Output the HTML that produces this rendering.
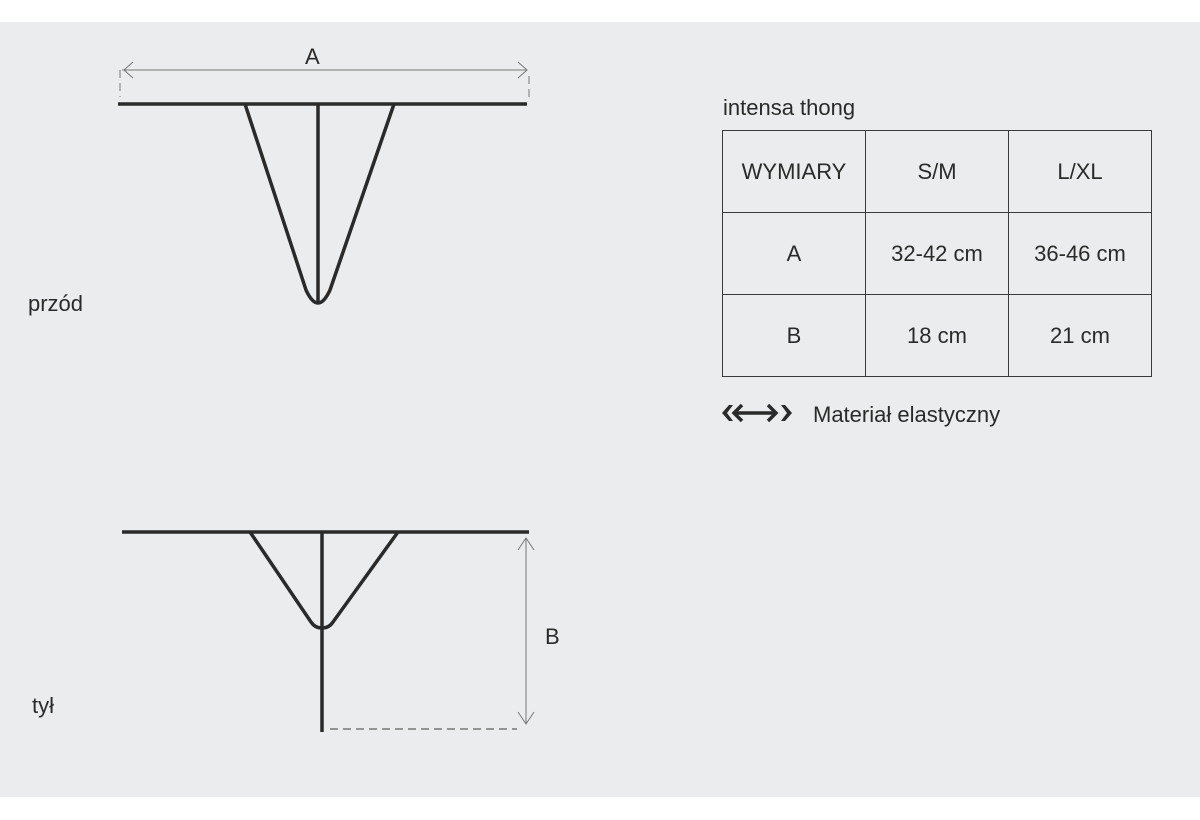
<!DOCTYPE html>
<html><head><style>
body{margin:0;width:1200px;height:820px;background:#fff;position:relative;font-family:"Liberation Sans",sans-serif;color:#2a2a2a;overflow:hidden}
.bg{position:absolute;left:0;top:22px;width:1200px;height:775px;background:#ebeced}
.t{position:absolute;font-size:22px;white-space:nowrap}
table{position:absolute;left:722px;top:130px;border-collapse:collapse}
td{border:1px solid #3a3a3a;width:142px;height:81px;text-align:center;font-size:22px;padding:0;color:#2a2a2a}
</style></head><body>
<div class="bg"></div>
<svg width="1200" height="820" style="position:absolute;left:0;top:0">
<g fill="none" stroke="#2a2a2a" stroke-width="3.5" stroke-linejoin="round">
<line x1="118" y1="104" x2="527" y2="104"/>
<line x1="318" y1="104" x2="318" y2="303"/>
<path d="M245 104 L306 290 Q312 303 318 303 Q324 303 330 290 L394 104"/>
<line x1="122" y1="532" x2="529" y2="532"/>
<line x1="322" y1="532" x2="322" y2="732"/>
<path d="M250 532 L311 622 Q315 628 322 628 Q329 628 333 622 L398 532"/>
</g>
<g fill="none" stroke="#777" stroke-width="1">
<line x1="122" y1="70" x2="527" y2="70"/>
<path d="M133 62 L124 70 L133 78 M518 62 L527 70 L518 78"/>
<line x1="120" y1="70" x2="120" y2="97" stroke-dasharray="8,5"/>
<line x1="529" y1="76" x2="529" y2="97" stroke-dasharray="8,5"/>
<line x1="526" y1="538" x2="526" y2="724"/>
<path d="M518 550 L526 538 L534 550 M518 712 L526 724 L534 712"/>
</g>
<line x1="330" y1="729" x2="517" y2="729" stroke="#777" stroke-width="1.5" stroke-dasharray="8,5"/>
<g fill="#2a2a2a">
<line x1="734" y1="413" x2="776" y2="413" stroke="#2a2a2a" stroke-width="3.5"/>
<path d="M742 405 L734 413 L742 421" fill="none" stroke="#2a2a2a" stroke-width="3.5"/>
<path d="M768 405 L776 413 L768 421" fill="none" stroke="#2a2a2a" stroke-width="3.5"/>
<path d="M729 405 L722 413 L729 421 L733 421 L727 413 L733 405Z"/>
<path d="M785 405 L792 413 L785 421 L781 421 L787 413 L781 405Z"/>
</g>
</svg>
<div class="t" style="left:305px;top:44px">A</div>
<div class="t" style="left:545px;top:624px">B</div>
<div class="t" style="left:28px;top:291px">przód</div>
<div class="t" style="left:32px;top:693px">tył</div>
<div class="t" style="left:723px;top:95px">intensa thong</div>
<div class="t" style="left:813px;top:402px">Materiał elastyczny</div>
<table>
<tr><td>WYMIARY</td><td>S/M</td><td>L/XL</td></tr>
<tr><td>A</td><td>32-42 cm</td><td>36-46 cm</td></tr>
<tr><td>B</td><td>18 cm</td><td>21 cm</td></tr>
</table>
</body></html>
